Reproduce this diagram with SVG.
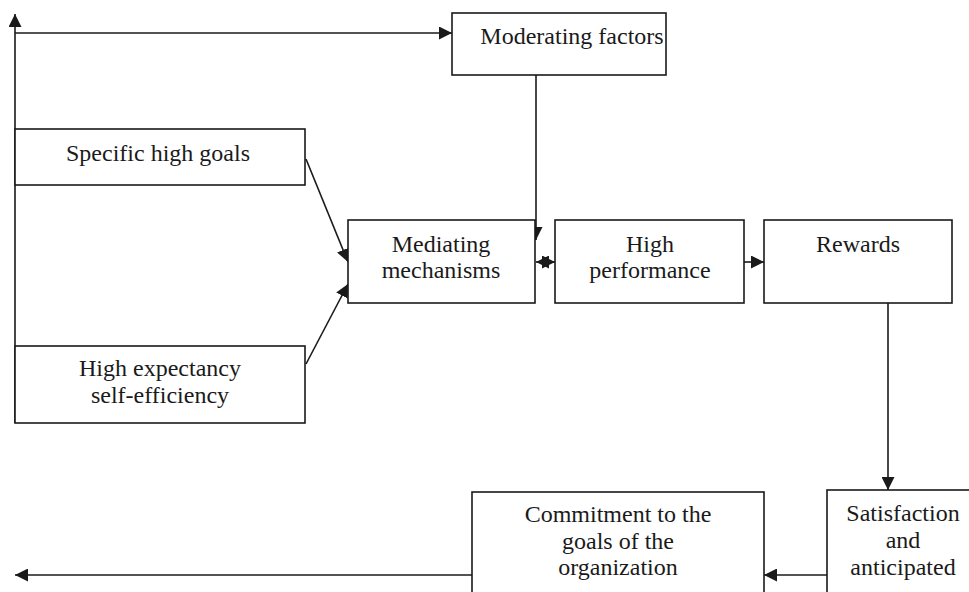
<svg xmlns="http://www.w3.org/2000/svg" width="969" height="592" viewBox="0 0 969 592">
<style>
rect{fill:#fff;stroke:#1a1a1a;stroke-width:1.6}
text{font-family:"Liberation Serif","Times New Roman",serif;font-size:24px;fill:#1a1a1a;text-anchor:middle}
.c{stroke:#1a1a1a;stroke-width:1.6;fill:none}
</style>
<defs>
<marker id="a" viewBox="0 0 10 10" refX="10" refY="5" markerWidth="13" markerHeight="13" markerUnits="userSpaceOnUse" orient="auto-start-reverse"><path d="M0,0 L10,5 L0,10 Z" fill="#1a1a1a"/></marker>
</defs>
<rect x="0" y="0" width="969" height="592" style="stroke:none"/>
<g id="connectors">
<path class="c" d="M15,423 V14" marker-end="url(#a)"/>
<path class="c" d="M15,33 H452" marker-end="url(#a)"/>
<path class="c" d="M536,75 V240" marker-end="url(#a)"/>
<path class="c" d="M306,159 L348,262" marker-end="url(#a)"/>
<path class="c" d="M306,364 L348,284" marker-end="url(#a)"/>
<path class="c" d="M536,262 H555" marker-start="url(#a)" marker-end="url(#a)"/>
<path class="c" d="M744,262 H764" marker-end="url(#a)"/>
<path class="c" d="M888,303 V490" marker-end="url(#a)"/>
<path class="c" d="M827,575 H764" marker-end="url(#a)"/>
<path class="c" d="M472,575 H15" marker-end="url(#a)"/>
</g>
<g id="moderating"><rect x="452" y="13" width="214" height="62"/><text x="572" y="44">Moderating factors</text></g>
<g id="specific"><rect x="15" y="129" width="290" height="56"/><text x="158" y="161">Specific high goals</text></g>
<g id="expectancy"><rect x="15" y="346" width="290" height="77"/><text x="160" y="376">High expectancy</text><text x="160" y="403">self-efficiency</text></g>
<g id="mediating"><rect x="348" y="220" width="187" height="83"/><text x="441" y="252">Mediating</text><text x="441" y="278">mechanisms</text></g>
<g id="performance"><rect x="555" y="220" width="189" height="83"/><text x="650" y="252">High</text><text x="650" y="278">performance</text></g>
<g id="rewards"><rect x="764" y="220" width="188" height="83"/><text x="858" y="252">Rewards</text></g>
<g id="satisfaction"><rect x="827" y="490" width="150" height="110"/><text x="903" y="521">Satisfaction</text><text x="903" y="548">and</text><text x="903" y="575">anticipated</text></g>
<g id="commitment"><rect x="472" y="492" width="292" height="110"/><text x="618" y="522">Commitment to the</text><text x="618" y="549">goals of the</text><text x="618" y="575">organization</text></g>
</svg>
